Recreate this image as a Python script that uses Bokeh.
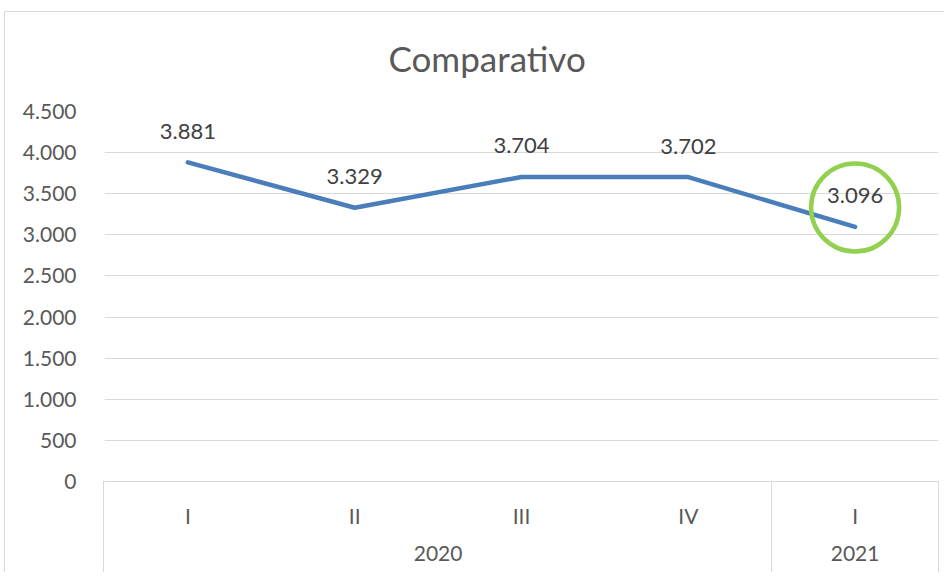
from bokeh.plotting import figure
from bokeh.models import FactorRange, Range1d, FixedTicker
from bokeh.embed import file_html
from bokeh.resources import INLINE
from bokeh.core.properties import value

# ---- data ----
years = ["2020", "2020", "2020", "2020", "2021"]
quarters = ["I", "II", "III", "IV", "I"]
values = [3881, 3329, 3704, 3702, 3096]
y_ticks = [0, 500, 1000, 1500, 2000, 2500, 3000, 3500, 4000, 4500]
y_tick_labels = ["0", "500", "1.000", "1.500", "2.000", "2.500", "3.000", "3.500", "4.000", "4.500"]
title_text = "Comparativo"

factors = list(zip(years, quarters))
labels = [f"{v:,}".replace(",", ".") for v in values]

FONT = "Lato"
TXT = "#595959"
GRID = "#d9d9d9"

p = figure(
    width=944, height=572,
    x_range=FactorRange(*factors, factor_padding=0, group_padding=0, range_padding=0),
    y_range=Range1d(0, 4500),
    output_backend="svg", toolbar_location=None,
    min_border_left=104, min_border_right=6, min_border_top=111, min_border_bottom=91,
)
# chart border (top/left) and the separator lines of the two-level category axis
g = f"linear-gradient({GRID},{GRID})"
p.border_fill_color = None
p.styles = {
    "background-color": "white",
    "background-image": ", ".join([g] * 5),
    "background-size": "1px 100%, 100% 1px, 1px 100px, 1px 100px, 1px 100px",
    "background-position": "4px 11px, 4px 11px, 103px 481px, 938px 481px, 771px 481px",
    "background-repeat": "no-repeat",
}

p.title.text = title_text
p.title.align = "left"
p.title.offset = 284
p.title.standoff = 66
p.title.text_font = FONT
p.title.text_font_size = "35px"
p.title.text_font_style = "normal"
p.title.text_color = TXT

p.outline_line_color = None
p.background_fill_color = "white"
p.xgrid.grid_line_color = None
p.ygrid.ticker = FixedTicker(ticks=y_ticks)
p.ygrid.grid_line_color = GRID
p.ygrid.grid_line_width = 1

p.yaxis.ticker = FixedTicker(ticks=y_ticks)
p.yaxis.major_label_overrides = {t: l for t, l in zip(y_ticks, y_tick_labels)}
p.yaxis.axis_line_color = None
p.yaxis.major_tick_line_color = None
p.yaxis.minor_tick_line_color = None
p.yaxis.major_label_standoff = 22
p.yaxis.major_label_text_font = FONT
p.yaxis.major_label_text_font_size = "21px"
p.yaxis.major_label_text_color = TXT

p.xaxis.axis_line_color = GRID
p.xaxis.major_tick_line_color = None
p.xaxis.major_label_text_font = FONT
p.xaxis.major_label_text_font_size = "21px"
p.xaxis.major_label_text_color = TXT
p.xaxis.major_label_standoff = 15
p.xaxis.group_text_font = FONT
p.xaxis.group_text_font_size = "21px"
p.xaxis.group_text_font_style = "normal"
p.xaxis.group_text_color = TXT
p.xaxis.group_label_orientation = "horizontal"
p.xaxis.separator_line_color = None

p.line(x=factors, y=values, line_color="#4A7EBB", line_width=4.5,
       line_cap="round", line_join="round")

p.text(x=factors, y=values, text=labels, y_offset=-31,
       text_align="center", text_baseline="middle",
       text_font=value(FONT), text_font_size="22px", text_color="#404040")

# highlight ring around the last data label
highlight_shift = 236
p.scatter(x=[factors[-1]], y=[values[-1] + highlight_shift], marker="circle", size=88,
          fill_color=None, line_color="#92D050", line_width=4.5)

open("out.html", "w").write(file_html(p, INLINE))
